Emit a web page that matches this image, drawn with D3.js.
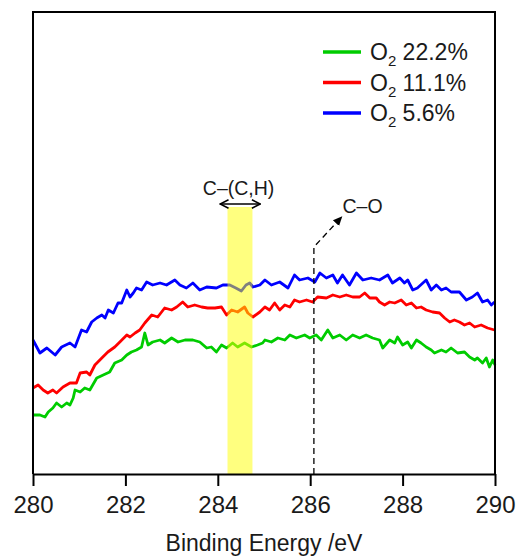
<!DOCTYPE html>
<html lang="en">
<head>
<meta charset="UTF-8">
<title>C1s XPS</title>
<script src="https://d3js.org/d3.v7.min.js"></script>
<style>
  body { margin: 0; background: #fff; }
  text { font-family: "Liberation Sans", Arial, sans-serif; fill: #1a1a1a; }
</style>
</head>
<body>
<svg width="519" height="558"></svg>
<script>
// binding energy (eV) and intensity (a.u.)
const blueE = [280.00,280.15,280.30,280.48,280.62,280.80,280.91,281.05,281.16,281.27,281.38,281.49,281.56,281.63,281.74,281.84,281.92,282.03,282.10,282.17,282.24,282.35,282.46,282.59,282.75,282.89,283.07,283.18,283.32,283.46,283.61,283.76,283.97,284.11,284.26,284.39,284.51,284.61,284.69,284.76,284.91,285.02,285.16,285.34,285.52,285.66,285.77,285.95,286.10,286.21,286.35,286.49,286.59,286.70,286.85,287.00,287.14,287.32,287.50,287.68,287.78,287.94,288.04,288.11,288.22,288.32,288.51,288.62,288.73,288.84,288.94,289.05,289.23,289.38,289.51,289.62,289.73,289.84,289.92,289.99];
const blueI = [134,121,126,119,127,131,127,144,142,152,156,159,156,164,161,171,171,184,177,181,186,184,192,189,191,189,194,189,186,191,184,187,186,189,189,186,183,189,191,187,189,194,189,192,186,199,194,196,192,201,196,199,191,199,189,201,194,196,194,199,191,196,191,194,184,186,194,184,189,184,186,182,182,174,177,181,172,174,169,172];

const redE = [280.00,280.11,280.22,280.32,280.43,280.51,280.65,280.80,280.94,281.02,281.16,281.23,281.34,281.49,281.62,281.77,281.88,282.03,282.10,282.21,282.31,282.42,282.57,282.70,282.85,283.00,283.11,283.24,283.35,283.50,283.65,283.78,283.94,284.08,284.19,284.30,284.43,284.58,284.65,284.76,284.91,285.02,285.12,285.23,285.34,285.45,285.56,285.66,285.77,285.92,286.05,286.16,286.35,286.49,286.64,286.78,286.92,287.07,287.18,287.29,287.43,287.50,287.61,287.72,287.83,287.97,288.08,288.19,288.30,288.40,288.51,288.65,288.80,288.91,289.02,289.12,289.23,289.34,289.45,289.56,289.70,289.84,289.99];
const redI = [86,89,84,81,84,81,87,91,91,101,102,99,109,116,122,127,132,139,137,141,144,151,159,157,166,164,167,172,167,169,167,166,166,167,159,164,162,167,161,157,162,167,164,171,164,169,167,174,172,174,172,177,176,179,177,179,177,177,181,176,176,172,169,172,171,174,169,171,166,167,164,162,161,156,152,154,152,149,151,147,149,146,144];

const greenE = [280.00,280.15,280.26,280.33,280.43,280.51,280.62,280.73,280.80,280.87,280.91,281.02,281.12,281.23,281.38,281.52,281.66,281.77,281.92,282.03,282.13,282.24,282.35,282.42,282.49,282.59,282.75,282.85,283.00,283.14,283.29,283.46,283.61,283.76,283.86,283.97,284.08,284.19,284.32,284.43,284.58,284.73,284.86,284.97,285.02,285.16,285.30,285.45,285.56,285.70,285.88,285.99,286.13,286.24,286.38,286.49,286.64,286.78,286.92,287.07,287.21,287.35,287.50,287.57,287.72,287.83,287.89,288.00,288.11,288.19,288.30,288.40,288.51,288.62,288.69,288.84,288.94,289.05,289.19,289.34,289.45,289.56,289.62,289.73,289.81,289.88,289.95,290.00];
const greenI = [59,59,57,62,66,71,67,71,69,76,84,82,86,84,96,99,102,111,114,119,122,124,127,141,129,132,134,131,136,132,134,134,132,126,127,122,129,126,131,127,131,127,129,131,134,132,136,134,139,136,139,136,139,134,144,136,139,134,139,136,139,136,134,126,134,131,137,129,132,126,134,131,127,124,121,124,122,126,121,122,117,114,116,111,116,107,114,109];

const seriesNames = ["O2 22.2%", "O2 11.1%", "O2 5.6%"];
const seriesColors = ["#00cc00", "#ff0000", "#0000ff"];
const xTicks = [280, 282, 284, 286, 288, 290];
const bandRange = [284.21, 284.75];
const coPeak = 286.08;

const svg = d3.select("svg");
const margin = { left: 33, right: 24, top: 12, bottom: 84 };
const W = 519, H = 558;

const x = d3.scaleLinear().domain([280, 290]).range([margin.left, W - margin.right]);
const y = d3.scaleLinear().domain([0, 462]).range([H - margin.bottom, margin.top]);

const series = [
    { name: seriesNames[0], color: seriesColors[0], pts: greenE.map((e, i) => [e, greenI[i]]) },
    { name: seriesNames[1], color: seriesColors[1], pts: redE.map((e, i) => [e, redI[i]]) },
    { name: seriesNames[2], color: seriesColors[2], pts: blueE.map((e, i) => [e, blueI[i]]) }
];

const line = d3.line().x(d => x(d[0])).y(d => y(d[1]));

// markers
const defs = svg.append("defs");
defs.append("marker").attr("id", "head")
    .attr("viewBox", "0 0 10 10").attr("refX", 9).attr("refY", 5)
    .attr("markerWidth", 7).attr("markerHeight", 7).attr("orient", "auto-start-reverse")
    .append("path").attr("d", "M1,1 L9,5 L1,9").attr("fill", "none").attr("stroke", "#000").attr("stroke-width", 1.5);
defs.append("marker").attr("id", "tri")
    .attr("viewBox", "0 0 10 10").attr("refX", 8).attr("refY", 5)
    .attr("markerWidth", 8).attr("markerHeight", 8).attr("orient", "auto")
    .append("path").attr("d", "M0,1 L9,5 L0,9 Z").attr("fill", "#000");

// curves
series.forEach(s => {
    svg.append("path").datum(s.pts)
        .attr("d", line)
        .attr("fill", "none")
        .attr("stroke", s.color)
        .attr("stroke-width", 2.8)
        .attr("stroke-linejoin", "round");
});

// yellow band on top (lines show through)
svg.append("rect")
    .attr("x", x(bandRange[0]))
    .attr("y", y(267))
    .attr("width", x(bandRange[1]) - x(bandRange[0]))
    .attr("height", y(0) - y(267))
    .attr("fill", "#ffff00")
    .attr("fill-opacity", 0.5);

// C-(C,H) double arrow + label
svg.append("line")
    .attr("x1", x(284.05)).attr("x2", x(284.92))
    .attr("y1", y(270)).attr("y2", y(270))
    .attr("stroke", "#000").attr("stroke-width", 1.5)
    .attr("marker-start", "url(#head)").attr("marker-end", "url(#head)");
svg.append("text")
    .attr("x", x(284.45)).attr("y", y(279))
    .attr("text-anchor", "middle").attr("font-size", 19.5)
    .text("C\u2013(C,H)");

// C-O dashed arrow + label
svg.append("path")
    .attr("d", `M${x(coPeak)},${y(0)} L${x(coPeak)},${y(227)} L${x(286.68)},${y(257)}`)
    .attr("fill", "none").attr("stroke", "#000").attr("stroke-width", 1.3)
    .attr("stroke-dasharray", "6,4")
    .attr("marker-end", "url(#tri)");
svg.append("text")
    .attr("x", x(286.70)).attr("y", y(261))
    .attr("font-size", 19.5)
    .text("C\u2013O");

// frame
const g = svg.append("g");
g.append("path")
    .attr("d", `M${x(280)},${y(0)} V${margin.top} H${x(290)} V${y(0)}`)
    .attr("fill", "none").attr("stroke", "#000").attr("stroke-width", 2);

// x axis
const xAxis = svg.append("g")
    .attr("transform", `translate(0,${y(0)})`)
    .call(d3.axisBottom(x).tickValues(xTicks).tickSize(12).tickSizeOuter(0).tickPadding(10).tickFormat(d3.format("d")));
xAxis.select(".domain").attr("stroke", "#000").attr("stroke-width", 2);
xAxis.selectAll(".tick line").attr("stroke", "#000").attr("stroke-width", 2);
xAxis.selectAll(".tick text")
    .attr("font-size", 24).attr("fill", "#1a1a1a")
    .attr("font-family", "'Liberation Sans', Arial, sans-serif");

svg.append("text")
    .attr("x", (x(280) + x(290)) / 2).attr("y", 551)
    .attr("text-anchor", "middle").attr("font-size", 23)
    .text("Binding Energy /eV");

// legend
const legend = svg.append("g").attr("transform", "translate(323,52)");
series.forEach((s, i) => {
    const row = legend.append("g").attr("transform", `translate(0,${i * 30.5})`);
    row.append("line").attr("x1", 0).attr("x2", 38).attr("y1", 0).attr("y2", 0)
        .attr("stroke", s.color).attr("stroke-width", 3.5);
    const t = row.append("text").attr("x", 47).attr("y", 8).attr("font-size", 23);
    t.append("tspan").text("O");
    t.append("tspan").attr("font-size", 15).attr("dy", 6).text("2");
    t.append("tspan").attr("dy", -6).text(" " + s.name.slice(3));
});
</script>
</body>
</html>
